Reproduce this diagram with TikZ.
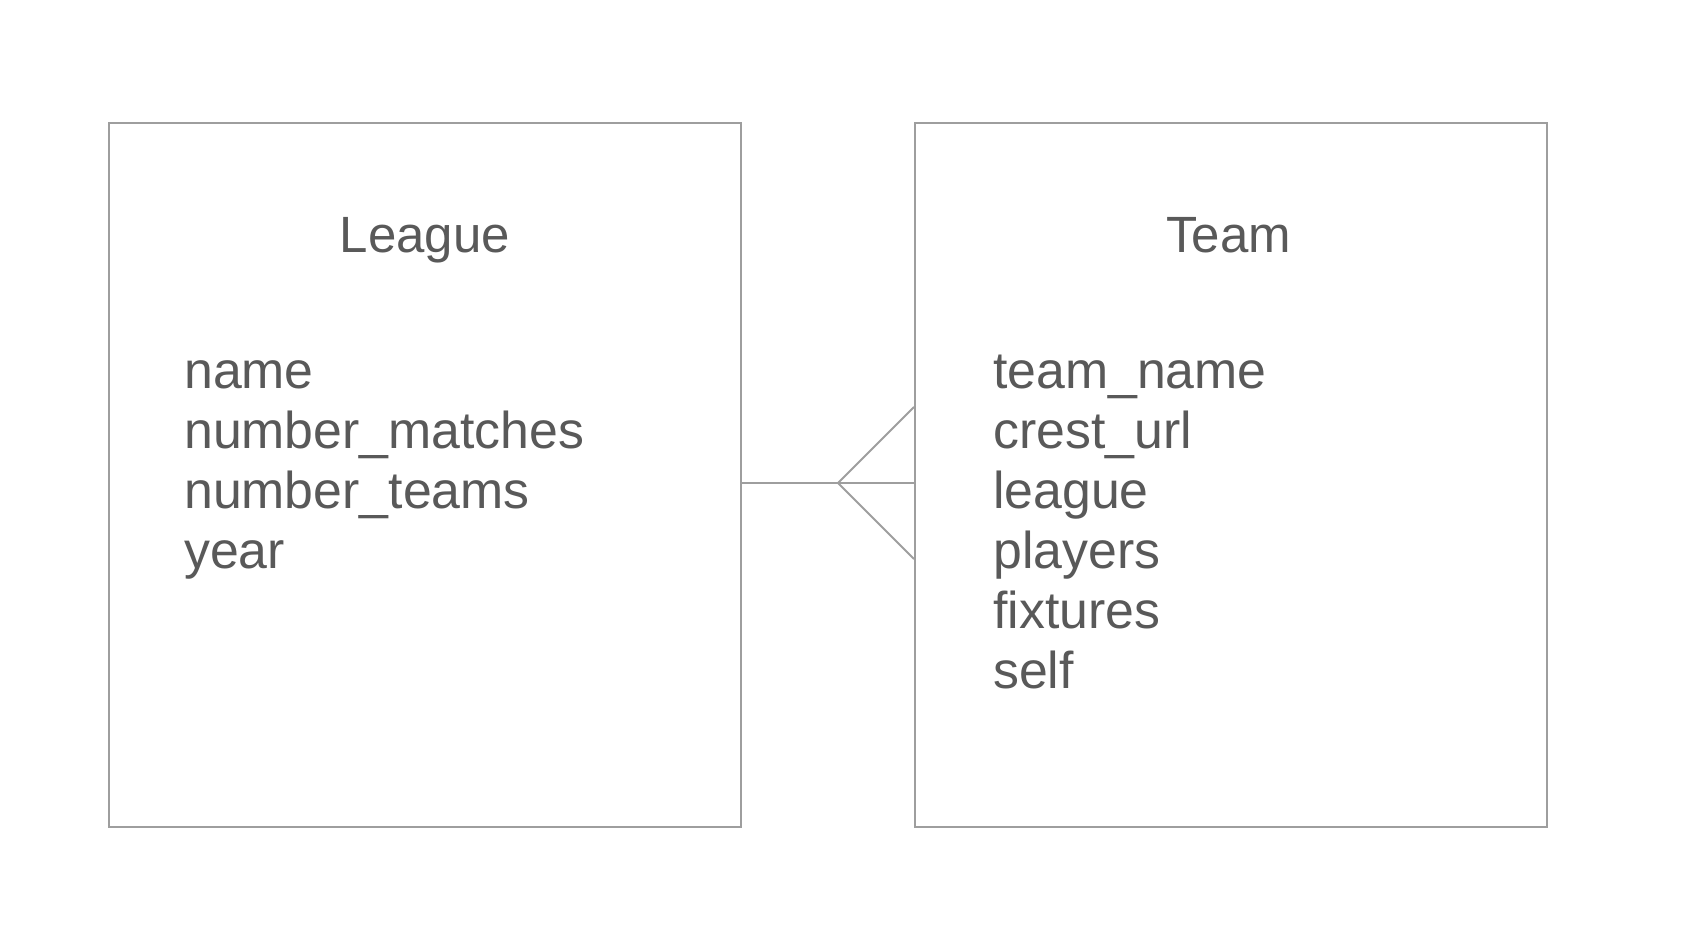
\documentclass[tikz,border=0pt]{standalone}
\usepackage{fontspec}
\setmainfont{Liberation Sans}
\usetikzlibrary{calc}
\definecolor{txtgray}{HTML}{595959}
\definecolor{linegray}{HTML}{9E9E9E}
\tikzset{
  entity/.style={draw=linegray, line width=2pt, minimum width=632pt, minimum height=704pt, inner sep=0pt},
  title/.style={anchor=base, text=txtgray, inner sep=0pt, font=\fontsize{51}{59}\selectfont},
  field/.style={anchor=base west, text=txtgray, inner sep=0pt, font=\fontsize{51.8}{60}\selectfont},
  conn/.style={draw=linegray, line width=2pt, line join=miter}
}
\begin{document}
\begin{tikzpicture}[x=1pt, y=-1pt]
\useasboundingbox[fill=white] (0,0) rectangle (1684,926);
\node[entity] (league) at (425,475) {};
\node[entity] (team) at (1231,475) {};
\node[title] (leaguetitle) at (425,252) {League};
\node[title] (teamtitle) at (1228.5,252) {Team};
\foreach \t [count=\i] in {name,number\_matches,number\_teams,year}
  \node[field] (lf\i) at (184,{388+60*(\i-1)}) {\t};
\foreach \t [count=\i] in {team\_name,crest\_url,league,players,fixtures,self}
  \node[field] (tf\i) at (993,{388+60*(\i-1)}) {\t};
\coordinate (apex) at (838,483);
\draw[conn] (league.east |- apex) -- (team.west |- apex);
\draw[conn] ($(team.west |- apex)+(0,-76)$) -- (apex) -- ($(team.west |- apex)+(0,76)$);
\end{tikzpicture}
\end{document}
